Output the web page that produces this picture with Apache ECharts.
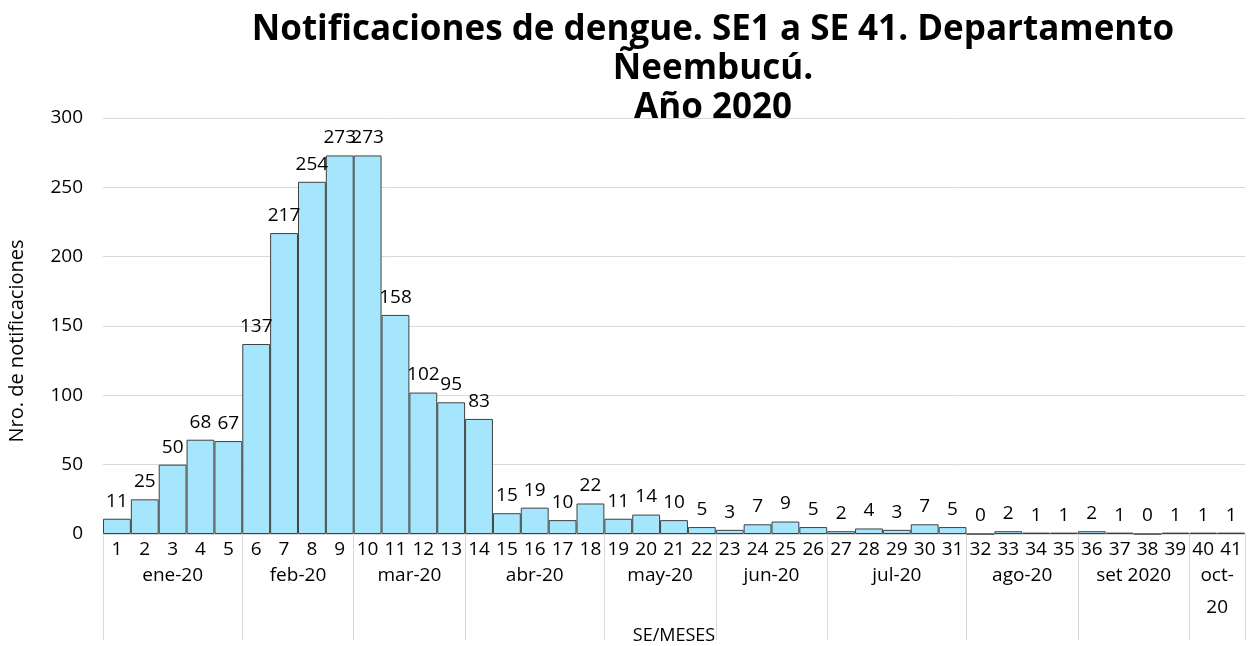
<!DOCTYPE html>
<html><head><meta charset="utf-8">
<script src="https://cdn.jsdelivr.net/npm/echarts@6/dist/echarts.min.js"></script>
<style>html,body{margin:0;padding:0;background:#fff}#c{width:1256px;height:646px}</style>
</head><body><div id="c"></div>
<script>
const weeks = ["1","2","3","4","5","6","7","8","9","10","11","12","13","14","15","16","17","18","19","20","21","22","23","24","25","26","27","28","29","30","31","32","33","34","35","36","37","38","39","40","41"];
const cases = [11,25,50,68,67,137,217,254,273,273,158,102,95,83,15,19,10,22,11,14,10,5,3,7,9,5,2,4,3,7,5,0,2,1,1,2,1,0,1,1,1];
const months = ["ene-20","feb-20","mar-20","abr-20","may-20","jun-20","jul-20","ago-20","set 2020","oct-\n20"];
const monthBounds = [0,5,9,13,18,22,26,31,35,39,41];
const yTicks = [0,50,100,150,200,250,300];

const font = '"Open Sans", "Noto Sans", sans-serif';
const mids = [];
for (let i = 0; i < months.length; i++) mids.push((monthBounds[i] + monthBounds[i+1]) / 2);

const chart = echarts.init(document.getElementById('c'), null, {renderer: 'canvas'});
chart.setOption({
  animation: false,
  textStyle: {fontFamily: font},
  title: {
    text: 'Notificaciones de dengue. SE1 a SE 41. Departamento\nÑeembucú.\nAño 2020',
    left: 708, top: 6, textAlign: 'center',
    textStyle: {fontFamily: font, fontSize: 35, fontWeight: 'bold', color: '#000', lineHeight: 39}
  },
  grid: {left: 103, right: 11, top: 118, bottom: 112, containLabel: false, outerBoundsMode: 'none'},
  xAxis: [
    {
      type: 'category', data: weeks, position: 'bottom', boundaryGap: true,
      axisLine: {show: true, lineStyle: {color: '#d9d9d9', width: 1}},
      axisTick: {show: false},
      axisLabel: {fontFamily: font, fontSize: 19, color: '#000', margin: 6, interval: 0},
      name: 'SE/MESES', nameLocation: 'middle', nameGap: 93,
      nameTextStyle: {fontFamily: font, fontSize: 18, color: '#000'}
    },
    {
      type: 'value', min: 0, max: 41, position: 'bottom',
      axisLine: {show: false},
      splitLine: {show: false},
      axisTick: {show: true, customValues: monthBounds, length: 106, lineStyle: {color: '#d9d9d9', width: 1}},
      axisLabel: {
        show: true, customValues: mids, fontFamily: font, fontSize: 19, color: '#000',
        margin: 26, verticalAlign: 'top', lineHeight: 32,
        formatter: function (v) { const i = mids.indexOf(v); return i >= 0 ? months[i] : ''; }
      }
    }
  ],
  yAxis: {
    type: 'value', min: yTicks[0], max: yTicks[yTicks.length-1], interval: 50,
    axisLine: {show: false}, axisTick: {show: false},
    splitLine: {lineStyle: {color: '#d9d9d9', width: 1}},
    axisLabel: {fontFamily: font, fontSize: 19, color: '#000', margin: 20},
    name: 'Nro. de notificaciones', nameLocation: 'middle', nameGap: 76, nameRotate: 90,
    nameTextStyle: {fontFamily: font, fontSize: 20, color: '#000', padding: [0, 30, 0, 0]}
  },
  series: [{
    type: 'bar', data: cases, xAxisIndex: 0, barCategoryGap: '0%',
    itemStyle: {color: '#a6e6fc', borderColor: '#404040', borderWidth: 1},
    label: {show: true, position: 'top', fontFamily: font, fontSize: 19, color: '#000', distance: 8}
  }]
});
</script></body></html>
